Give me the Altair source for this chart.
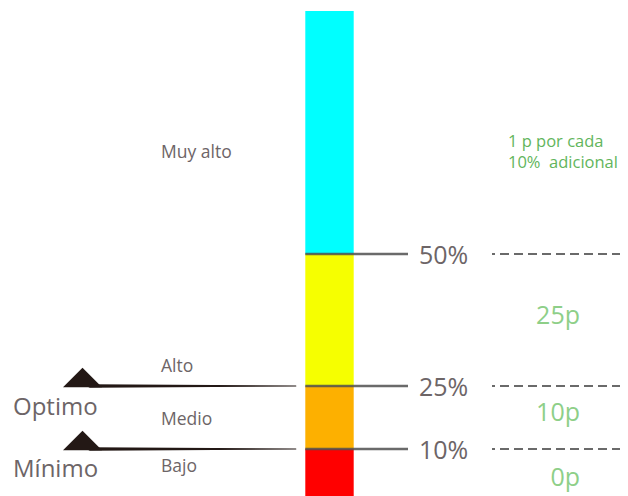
import altair as alt
import pandas as pd

# ---------------- data ----------------
segment_names = ["Bajo", "Medio", "Alto", "Muy alto"]
segment_from = [0, 10, 25, 50]
segment_to = [10, 25, 50, 100]
segment_colors = ["#FF0000", "#FDB000", "#F6FF00", "#00FFFF"]

thresholds = [50, 25, 10]
threshold_labels = ["50%", "25%", "10%"]

points_labels = ["25p", "10p", "0p"]
note_lines = ["1 p por cada", "10%\u00a0 adicional"]
level_labels = ["Muy alto", "Alto", "Medio", "Bajo"]
marker_labels = ["Optimo", "Mínimo"]
marker_thresholds = [25, 10]

# ---------------- layout (pixels, plot coordinates) ----------------
W, H = 612, 488
Y_DOMAIN = [0, 10, 25, 50, 100]
Y_RANGE = [488, 441, 378, 246, 3]
BAR_X0, BAR_X1 = 297.3, 345.7
RULE_X1 = 400
DASH_X0, DASH_X1 = 484, 620
PCT_X = 411
level_pos = [(153, 150), (153, 364), (153, 417), (153, 464)]
marker_pos = [(5, 407), (5, 469)]
note_pos = [(500, 139), (500, 160)]
points_pos = [(572, 316), (572, 413), (572, 478)]
TRI_X = 74.5
TRAIL_X = [82, 288]
TRAIL_W = [3.6, 0.8]

FONT = "Open Sans"
GRAY = "#6d6567"

yscale = alt.Scale(domain=Y_DOMAIN, range=Y_RANGE, nice=False, zero=False, clamp=False)

seg_df = pd.DataFrame({"name": segment_names, "y0": segment_from, "y1": segment_to})
bars = alt.Chart(seg_df).mark_rect().encode(
    x=alt.value(BAR_X0),
    x2=alt.value(BAR_X1),
    y=alt.Y("y0:Q", scale=yscale, axis=None),
    y2="y1:Q",
    color=alt.Color("name:N", scale=alt.Scale(domain=segment_names, range=segment_colors), legend=None),
)

thr_df = pd.DataFrame({"v": thresholds, "label": threshold_labels})
rules = alt.Chart(thr_df).mark_rule(color="#505050", strokeWidth=2.3, opacity=0.85).encode(
    x=alt.value(BAR_X0),
    x2=alt.value(RULE_X1),
    y=alt.Y("v:Q", scale=yscale, axis=None),
)
dashes = alt.Chart(thr_df).mark_rule(color="#6a6a6a", strokeWidth=2.2,
                                     strokeDash=[9, 5], strokeDashOffset=6).encode(
    x=alt.value(DASH_X0),
    x2=alt.value(DASH_X1),
    y=alt.Y("v:Q", scale=yscale, axis=None),
)
pct = alt.Chart(thr_df).mark_text(align="left", baseline="middle", dy=1.5, font=FONT,
                                  fontSize=25, color=GRAY).encode(
    x=alt.value(PCT_X),
    y=alt.Y("v:Q", scale=yscale, axis=None),
    text="label:N",
)

mk_df = pd.DataFrame({"v": marker_thresholds})
tri = alt.Chart(mk_df).mark_point(
    shape="M-1,0.5L0,-0.5L1,0.5Z", size=1521, filled=True, opacity=1,
    color="#231815", yOffset=-8.5,
).encode(
    x=alt.value(TRI_X),
    y=alt.Y("v:Q", scale=yscale, axis=None),
)

trail_rows = []
for v in marker_thresholds:
    for px, w in zip(TRAIL_X, TRAIL_W):
        trail_rows.append({"v": v, "px": px, "w": w})
trail_df = pd.DataFrame(trail_rows)
trails = alt.Chart(trail_df).mark_trail(color="#231815").encode(
    x=alt.X("px:Q", scale=None, axis=None),
    y=alt.Y("v:Q", scale=yscale, axis=None),
    size=alt.Size("w:Q", scale=None, legend=None),
    detail="v:N",
)


def text_layer(labels, pos, size, color, align="left"):
    df = pd.DataFrame({"text": labels, "px": [p[0] for p in pos], "py": [p[1] for p in pos]})
    return alt.Chart(df).mark_text(align=align, baseline="alphabetic", font=FONT,
                                   fontSize=size, color=color).encode(
        x=alt.X("px:Q", scale=None, axis=None),
        y=alt.Y("py:Q", scale=None, axis=None),
        text="text:N",
    )


levels = text_layer(level_labels, level_pos, 17.5, GRAY)
markers = text_layer(marker_labels, marker_pos, 24, GRAY)
note = text_layer(note_lines, note_pos, 16.5, "#62b55c")
pts = text_layer(points_labels, points_pos, 25, "#8ecf88", align="right")

chart = alt.layer(
    bars, rules, dashes, pct, trails, tri, levels, markers, note, pts
).resolve_scale(
    x="independent", y="independent", color="independent", size="independent"
).properties(
    width=W, height=H, padding=0, autosize=alt.AutoSizeParams(type="none"),
    background="white",
).configure_view(stroke=None)

chart.save("out.html", embed_options={"renderer": "svg", "actions": False})
